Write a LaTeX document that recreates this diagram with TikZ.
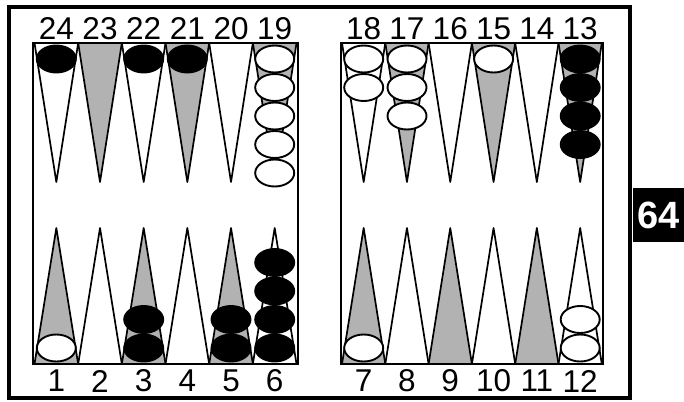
\documentclass[tikz,border=0pt]{standalone}
\usepackage{fontspec}
\setmainfont{Liberation Sans}
\usetikzlibrary{shapes.geometric}
\begin{document}
\begin{tikzpicture}[x=1pt,y=-1pt,
  frame/.style={line width=3.5pt},
  boardbox/.style={line width=2pt},
  ptplain/.style={draw=black,fill=white,line width=1.7pt,line join=round},
  ptshade/.style={draw=black,fill=black!30,line width=1.7pt,line join=round},
  chk/.style={shape=ellipse,minimum width=39pt,minimum height=27pt,inner sep=0pt,line width=1.9pt,draw=black},
  wchk/.style={chk,fill=white},
  bchk/.style={chk,fill=black},
  lbl/.style={font=\fontsize{31.5}{31.5}\selectfont,inner sep=0pt},
  tag/.style={fill=black,text=white,font=\fontsize{38}{38}\selectfont\bfseries,inner sep=0pt,minimum width=51pt,minimum height=54pt,anchor=north west}
]
\useasboundingbox (0,0) rectangle (684,401);
% outer frame
\draw[frame] (9,7) rectangle (630,398);
% boards
\draw[boardbox] (33,43) rectangle (298,364);
\draw[boardbox] (341,43) rectangle (603,364);
% left board points
\foreach \i in {0,...,5}{
  \pgfmathsetmacro{\xa}{34.5+43.67*\i}
  \pgfmathsetmacro{\xb}{34.5+43.67*(\i+1)}
  \pgfmathsetmacro{\xc}{34.5+43.67*(\i+0.5)}
  \pgfmathtruncatemacro{\odd}{mod(\i,2)}
  \ifnum\odd=1
    \draw[ptshade] (\xa,43) -- (\xc,182) -- (\xb,43) -- cycle;
    \draw[ptplain] (\xa,364) -- (\xc,228) -- (\xb,364) -- cycle;
  \else
    \draw[ptplain] (\xa,43) -- (\xc,182) -- (\xb,43) -- cycle;
    \draw[ptshade] (\xa,364) -- (\xc,228) -- (\xb,364) -- cycle;
  \fi
  \pgfmathtruncatemacro{\nt}{24-\i}
  \pgfmathtruncatemacro{\nb}{1+\i}
  \node[lbl] (l\nt) at (\xc,29) {\nt};
  \node[lbl] (l\nb) at (\xc,381) {\nb};
}
% right board points
\foreach \i in {0,...,5}{
  \pgfmathsetmacro{\xa}{342+43.3*\i}
  \pgfmathsetmacro{\xb}{342+43.3*(\i+1)}
  \pgfmathsetmacro{\xc}{342+43.3*(\i+0.5)}
  \pgfmathtruncatemacro{\odd}{mod(\i,2)}
  \ifnum\odd=1
    \draw[ptshade] (\xa,43) -- (\xc,182) -- (\xb,43) -- cycle;
    \draw[ptplain] (\xa,364) -- (\xc,228) -- (\xb,364) -- cycle;
  \else
    \draw[ptplain] (\xa,43) -- (\xc,182) -- (\xb,43) -- cycle;
    \draw[ptshade] (\xa,364) -- (\xc,228) -- (\xb,364) -- cycle;
  \fi
  \pgfmathtruncatemacro{\nt}{18-\i}
  \pgfmathtruncatemacro{\nb}{7+\i}
  \node[lbl] (l\nt) at (\xc,29) {\nt};
  \node[lbl] (l\nb) at (\xc,381) {\nb};
}
% checkers, top left
\node[bchk] (c24a) at (56.3,59) {};
\node[bchk] (c22a) at (143.7,59) {};
\node[bchk] (c21a) at (187.3,59) {};
\foreach \k/\y in {a/59,b/87.5,c/116,d/144.5,e/173}
  \node[wchk] (c19\k) at (274.7,\y) {};
% top right
\foreach \k/\y in {a/59,b/87.5}
  \node[wchk] (c18\k) at (363.7,\y) {};
\foreach \k/\y in {a/59,b/87.5,c/116}
  \node[wchk] (c17\k) at (407,\y) {};
\node[wchk] (c15a) at (493.6,59) {};
\foreach \k/\y in {a/59,b/87.5,c/116,d/144.5}
  \node[bchk] (c13\k) at (580.2,\y) {};
% bottom left
\node[wchk] (c1a) at (56.3,348) {};
\foreach \k/\y in {a/348,b/319.5}
  \node[bchk] (c3\k) at (143.7,\y) {};
\foreach \k/\y in {a/348,b/319.5}
  \node[bchk] (c5\k) at (231,\y) {};
\foreach \k/\y in {a/348,b/319.5,c/291,d/262.5}
  \node[bchk] (c6\k) at (274.7,\y) {};
% bottom right
\node[wchk] (c7a) at (363.7,348) {};
\foreach \k/\y in {a/348,b/319.5}
  \node[wchk] (c12\k) at (580.2,\y) {};
% page tag
\node[tag] (pg) at (633,188) {64};
\end{tikzpicture}
\end{document}
